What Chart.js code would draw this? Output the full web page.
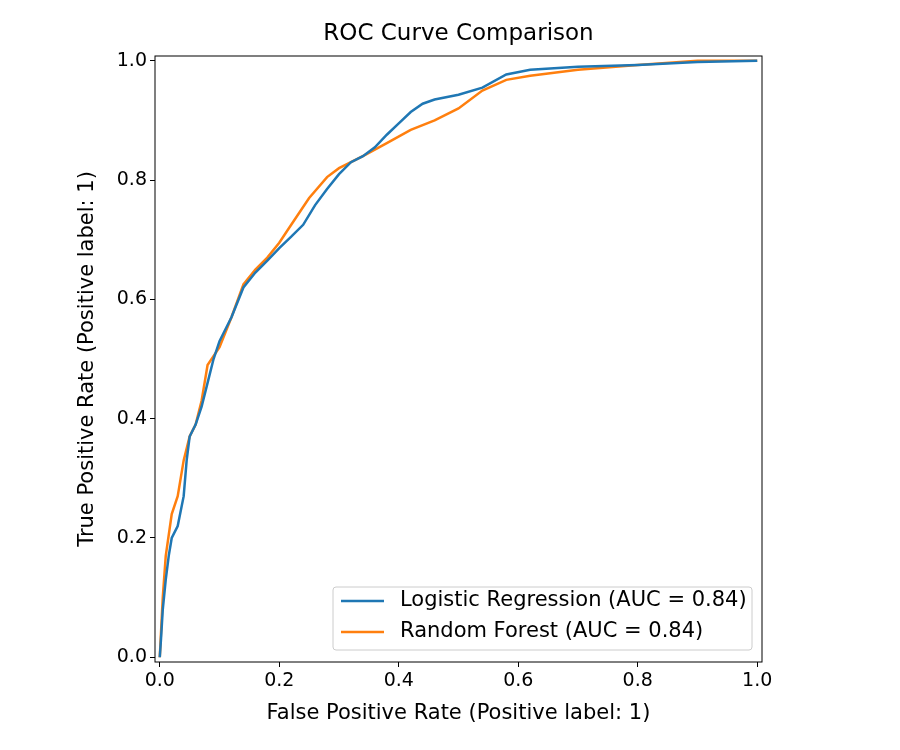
<!DOCTYPE html>
<html><head><meta charset="utf-8">
<script src="https://cdn.jsdelivr.net/npm/chart.js@4"></script>
<style>body{margin:0;background:#fff}#wrap{width:900px;height:750px}</style>
</head><body><div id="wrap"><canvas id="c"></canvas></div>
<script>
// ROC curves
const lrFpr = [0,0.002,0.005,0.01,0.015,0.02,0.03,0.04,0.045,0.05,0.06,0.07,0.08,0.09,0.1,0.12,0.14,0.16,0.18,0.2,0.22,0.24,0.26,0.28,0.3,0.32,0.34,0.36,0.38,0.4,0.42,0.44,0.46,0.5,0.54,0.58,0.62,0.7,0.8,0.9,1];
const lrTpr = [0,0.03,0.08,0.13,0.17,0.2,0.22,0.27,0.33,0.37,0.39,0.42,0.46,0.5,0.53,0.57,0.62,0.645,0.665,0.686,0.705,0.725,0.758,0.785,0.81,0.83,0.84,0.855,0.876,0.895,0.914,0.928,0.935,0.943,0.955,0.977,0.985,0.99,0.993,0.998,1];
const rfFpr = [0,0.005,0.01,0.02,0.03,0.04,0.05,0.06,0.07,0.08,0.1,0.12,0.14,0.16,0.18,0.2,0.22,0.25,0.28,0.3,0.34,0.38,0.42,0.46,0.5,0.54,0.58,0.62,0.7,0.8,0.9,1];
const rfTpr = [0,0.1,0.17,0.24,0.27,0.33,0.37,0.39,0.43,0.49,0.52,0.57,0.625,0.65,0.67,0.695,0.725,0.77,0.805,0.82,0.84,0.862,0.884,0.9,0.92,0.95,0.968,0.975,0.985,0.993,1,1];
const ticks = [0, 0.2, 0.4, 0.6, 0.8, 1.0];
const labels = ['Logistic Regression (AUC = 0.84)', 'Random Forest (AUC = 0.84)'];
const colors = ['#1f77b4', '#ff7f0e'];

const FONT = "'DejaVu Sans', sans-serif";
const pts = (xs, ys) => xs.map((x, i) => ({ x, y: ys[i] }));

const frame = {
  id: 'frame',
  afterDraw(chart) {
    const { ctx, chartArea: a } = chart;
    ctx.save();
    ctx.strokeStyle = '#000'; ctx.lineWidth = 1;
    ctx.strokeRect(a.left, a.top, a.right - a.left, a.bottom - a.top);
    ctx.fillStyle = '#000'; ctx.textAlign = 'center'; ctx.textBaseline = 'middle';
    ctx.font = '23px ' + FONT;
    ctx.fillText('ROC Curve Comparison', (a.left + a.right) / 2, 34);
    ctx.font = '21px ' + FONT;
    ctx.fillText('False Positive Rate (Positive label: 1)', (a.left + a.right) / 2, 714);
    ctx.save();
    ctx.translate(88, (a.top + a.bottom) / 2); ctx.rotate(-Math.PI / 2);
    ctx.fillText('True Positive Rate (Positive label: 1)', 0, 0);
    ctx.restore();
    // legend box lower right
    const w = 419, h = 63, x0 = a.right - 10 - w, y0 = a.bottom - 12 - h;
    ctx.strokeStyle = '#ccc'; ctx.fillStyle = 'rgba(255,255,255,0.8)';
    ctx.beginPath(); ctx.roundRect(x0, y0, w, h, 3); ctx.fill(); ctx.stroke();
    ctx.font = '21px ' + FONT; ctx.textAlign = 'left';
    labels.forEach((t, i) => {
      const y = y0 + 14 + i * 31;
      ctx.strokeStyle = colors[i]; ctx.lineWidth = 2.5;
      ctx.beginPath(); ctx.moveTo(x0 + 8, y); ctx.lineTo(x0 + 51, y); ctx.stroke();
      ctx.fillStyle = '#000'; ctx.fillText(t, x0 + 67, y);
    });
    ctx.restore();
  }
};

const axis = (isX) => ({
  type: 'linear', min: -0.008, max: 1.008,
  afterBuildTicks: (s) => { s.ticks = ticks.map((v) => ({ value: v })); },
  afterFit: (s) => { if (isX) s.height = 88; else s.width = 155; },
  ticks: { color: '#000', font: { family: FONT, size: 19 }, callback: (v) => v.toFixed(1), padding: 3 },
  grid: { display: true, drawOnChartArea: false, drawTicks: true, tickLength: 5, color: '#000' },
  border: { display: false },
});

new Chart(document.getElementById('c'), {
  type: 'line',
  data: {
    datasets: [
      { label: labels[0], data: pts(lrFpr, lrTpr), borderColor: colors[0], borderWidth: 2.5, pointRadius: 0, tension: 0 },
      { label: labels[1], data: pts(rfFpr, rfTpr), borderColor: colors[1], borderWidth: 2.5, pointRadius: 0, tension: 0 },
    ],
  },
  options: {
    responsive: true, maintainAspectRatio: false, animation: false,
    layout: { padding: { top: 56, right: 138, left: 0, bottom: 0 } },
    plugins: { legend: { display: false }, tooltip: { enabled: false } },
    scales: { x: axis(true), y: axis(false) },
  },
  plugins: [frame],
});
</script></body></html>
